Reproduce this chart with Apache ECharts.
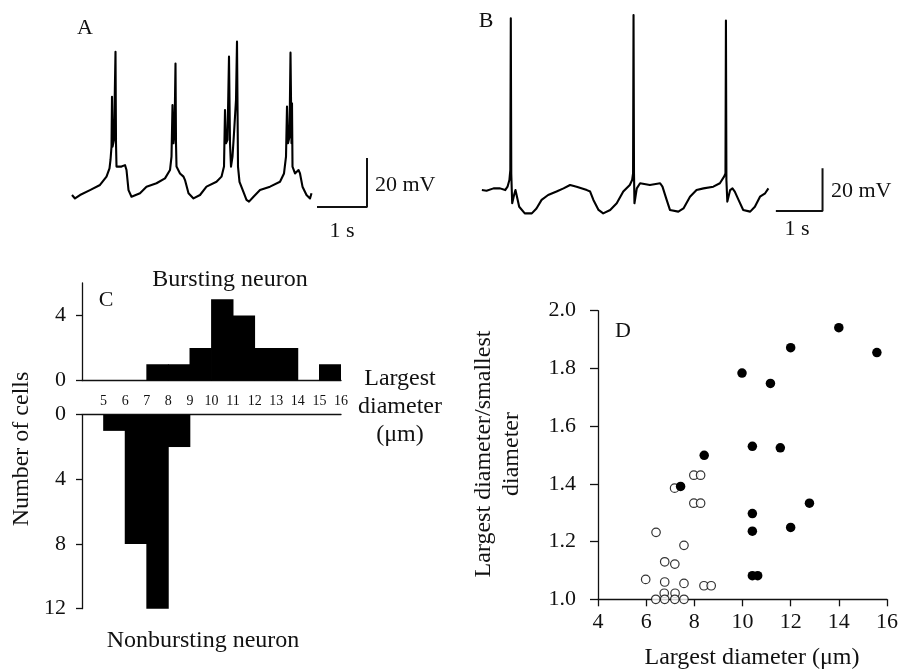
<!DOCTYPE html>
<html>
<head>
<meta charset="utf-8">
<script src="https://cdn.jsdelivr.net/npm/echarts@6/dist/echarts.min.js"></script>
<style>
  html, body { margin: 0; padding: 0; background: #fff; }
  #main { width: 917px; height: 672px; }
</style>
</head>
<body>
<div id="main"></div>
<script>
// A: bursting neuron trace (time s, membrane potential mV, arbitrary offset)
var traceA_t = [0.00, 0.06, 0.16, 0.36, 0.56, 0.69, 0.75, 0.77, 0.79, 0.80, 0.81, 0.84, 0.87, 0.88, 0.89, 0.93, 0.99, 1.06, 1.09, 1.13, 1.19,
    1.36, 1.49, 1.69, 1.86, 1.96, 1.99, 2.01, 2.03, 2.05, 2.07, 2.08, 2.09, 2.16, 2.23, 2.26, 2.33, 2.43,
    2.56, 2.69, 2.89, 2.99, 3.04, 3.06, 3.08, 3.11, 3.14, 3.16, 3.18, 3.21, 3.24, 3.28, 3.30, 3.32, 3.35, 3.39, 3.44, 3.49, 3.54,
    3.63, 3.76, 3.96, 4.16, 4.24, 4.28, 4.30, 4.32, 4.35, 4.37, 4.39, 4.40, 4.41, 4.46, 4.53, 4.56, 4.61, 4.69, 4.76, 4.79];
var traceA_v = [10.2, 8.8, 10.2, 12.2, 14.3, 17.7, 21.1, 24.5, 29.9, 50.3, 29.9, 32.7, 68.7, 31.3, 21.8, 22.4, 21.8, 22.4, 20.4, 12.2, 9.5,
    10.9, 13.6, 15.0, 17.0, 20.4, 25.9, 46.9, 31.3, 35.4, 63.9, 31.3, 21.8, 19.0, 17.7, 16.3, 10.9, 8.8,
    10.2, 13.6, 15.6, 17.7, 21.8, 44.9, 31.3, 32.7, 66.7, 31.3, 21.8, 25.9, 35.4, 49.0, 72.8, 21.8, 15.6, 15.0, 10.9, 8.2, 7.5,
    9.5, 12.2, 13.6, 15.6, 19.0, 25.9, 46.3, 31.3, 34.0, 68.3, 31.3, 47.6, 21.8, 19.0, 20.4, 19.0, 13.6, 10.2, 8.8, 10.9];

// B: nonbursting neuron trace
var traceB_t = [0.04, 0.14, 0.29, 0.43, 0.54, 0.59, 0.63, 0.65, 0.66, 0.67, 0.69, 0.73, 0.76, 0.84, 0.96, 1.11, 1.21, 1.32, 1.46,
    1.64, 1.79, 1.93, 2.07, 2.29, 2.36, 2.43, 2.54, 2.64, 2.79, 2.93, 3.07, 3.21, 3.26, 3.28, 3.29, 3.30, 3.31, 3.36,
    3.43, 3.64, 3.86, 3.91, 4.00, 4.07, 4.25, 4.36, 4.50, 4.64, 4.79, 5.00, 5.14, 5.23, 5.26, 5.27, 5.28, 5.30,
    5.36, 5.41, 5.46, 5.54, 5.64, 5.79, 5.89, 6.00, 6.11, 6.18];
var traceB_v = [18.7, 18.4, 19.5, 19.5, 18.7, 20.3, 23.4, 28.1, 99.2, 26.5, 12.5, 16.4, 18.7, 10.9, 7.8, 7.8, 10.1, 14.1, 16.4,
    18.0, 19.5, 21.1, 20.3, 18.7, 18.0, 14.1, 9.4, 7.8, 9.4, 12.5, 18.0, 21.1, 23.4, 26.5, 100.7, 26.5, 12.5, 19.5,
    21.9, 21.1, 21.9, 20.3, 14.1, 9.4, 8.6, 10.1, 15.6, 18.7, 19.5, 20.3, 21.9, 25.0, 26.5, 98.1, 23.4, 13.3,
    18.7, 19.5, 18.0, 14.1, 9.4, 8.6, 10.9, 15.6, 17.2, 19.5];

// scale bars: 1 s horizontal, 20 mV vertical
var scaleA_t = [4.9, 5.9, 5.9];
var scaleA_v = [5.3, 5.3, 25.3];
var scaleB_t = [6.34, 7.34, 7.34];
var scaleB_v = [8.9, 8.9, 28.9];

// C: histogram of largest diameter (bins 4-5 ... 15-16 um)
var binLabels = ['4-5', '5-6', '6-7', '7-8', '8-9', '9-10', '10-11', '11-12', '12-13', '13-14', '14-15', '15-16'];
var burstingCounts    = [0, 0, 0, 1, 1, 2, 5, 4, 2, 2, 0, 1];
var nonburstingCounts = [0, 1, 8, 12, 2, 0, 0, 0, 0, 0, 0, 0];

// D: largest diameter (um) vs largest/smallest diameter
var openX = [7.18, 7.98, 8.26, 7.98, 8.26, 6.41, 7.57, 6.77, 7.19, 5.98, 6.77, 7.57, 8.40, 8.70, 6.75, 7.20, 6.40, 6.77, 7.19, 7.57];
var openY = [1.385, 1.430, 1.430, 1.333, 1.333, 1.232, 1.187, 1.130, 1.122, 1.069, 1.060, 1.055, 1.047, 1.047, 1.021, 1.021, 1.0, 1.0, 1.0, 1.0];
var filledX = [9.98, 11.16, 12.0, 14.0, 15.58, 10.41, 11.57, 8.41, 7.43, 12.78, 10.41, 10.41, 12.0, 10.41, 10.63];
var filledY = [1.784, 1.748, 1.872, 1.941, 1.855, 1.530, 1.525, 1.499, 1.391, 1.333, 1.297, 1.236, 1.249, 1.082, 1.082];

function zip(a, b) {
    var out = [];
    for (var i = 0; i < a.length; i++) out.push([a[i], b[i]]);
    return out;
}

var FONT = '"Liberation Serif", "DejaVu Serif", serif';
var INK = '#111';

function txt(s, x, y, size, opts) {
    opts = opts || {};
    return {
        type: 'text', x: x, y: y, rotation: opts.rot || 0, silent: true,
        style: {
            text: s, fill: INK,
            font: size + 'px ' + FONT,
            textAlign: opts.align || 'center', align: opts.align || 'center',
            textVerticalAlign: 'middle', verticalAlign: 'middle',
            lineHeight: opts.lh || size
        }
    };
}

var hidden = { show: false };
var axLine = { show: true, lineStyle: { color: INK, width: 1.3 } };

var myChart = echarts.init(document.getElementById('main'));
var option = {
    animation: false,
    grid: [
        { left: 72, top: 24, width: 300, height: 196 },        // A
        { left: 480, top: 8, width: 350, height: 222 },        // B
        { left: 82, top: 283, width: 259, height: 97.5 },      // C upper
        { left: 82, top: 414.7, width: 259, height: 194 },     // C lower
        { left: 598, top: 310.7, width: 289, height: 288.6 }   // D
    ],
    xAxis: [
        { gridIndex: 0, type: 'value', min: 0, max: 6, show: false },
        { gridIndex: 1, type: 'value', min: 0, max: 7.5, show: false },
        {
            gridIndex: 2, type: 'category', data: binLabels,
            axisLine: axLine, axisTick: hidden, axisLabel: hidden
        },
        {
            gridIndex: 3, type: 'category', data: binLabels, position: 'top',
            axisLine: hidden, axisTick: hidden, axisLabel: hidden
        },
        {
            gridIndex: 3, type: 'value', min: 4, max: 16, interval: 1, position: 'top',
            axisLine: axLine, axisTick: hidden, splitLine: hidden,
            axisLabel: {
                color: INK, fontFamily: FONT, fontSize: 14, margin: 6,
                formatter: function (v) { return v >= 5 ? String(v) : ''; }
            }
        },
        {
            gridIndex: 4, type: 'value', min: 4, max: 16, interval: 2,
            axisLine: axLine, splitLine: hidden,
            axisTick: { show: true, length: 7, lineStyle: { color: INK, width: 1.3 } },
            axisLabel: { color: INK, fontFamily: FONT, fontSize: 22, margin: 12 }
        }
    ],
    yAxis: [
        { gridIndex: 0, type: 'value', min: 0, max: 80, show: false },
        { gridIndex: 1, type: 'value', min: 0, max: 104, show: false },
        {
            gridIndex: 2, type: 'value', min: 0, max: 6,
            axisLine: axLine, splitLine: hidden,
            axisTick: { show: true, length: 6, customValues: [0, 4], lineStyle: { color: INK, width: 1.3 } },
            axisLabel: { color: INK, fontFamily: FONT, fontSize: 22, margin: 16, customValues: [0, 4] }
        },
        {
            gridIndex: 3, type: 'value', min: 0, max: 12, interval: 4, inverse: true,
            axisLine: axLine, splitLine: hidden,
            axisTick: { show: true, length: 6, lineStyle: { color: INK, width: 1.3 } },
            axisLabel: { color: INK, fontFamily: FONT, fontSize: 22, margin: 16 }
        },
        {
            gridIndex: 4, type: 'value', min: 1, max: 2, interval: 0.2,
            axisLine: axLine, splitLine: hidden,
            axisTick: { show: true, length: 8, lineStyle: { color: INK, width: 1.3 } },
            axisLabel: {
                color: INK, fontFamily: FONT, fontSize: 22, margin: 22,
                formatter: function (v) { return v.toFixed(1); }
            }
        }
    ],
    series: [
        {
            type: 'line', xAxisIndex: 0, yAxisIndex: 0, data: zip(traceA_t, traceA_v),
            showSymbol: false, symbol: 'none',
            lineStyle: { color: '#000', width: 2.1, join: 'round' }
        },
        {
            type: 'line', xAxisIndex: 0, yAxisIndex: 0, data: zip(scaleA_t, scaleA_v),
            showSymbol: false, symbol: 'none', lineStyle: { color: INK, width: 2 }
        },
        {
            type: 'line', xAxisIndex: 1, yAxisIndex: 1, data: zip(traceB_t, traceB_v),
            showSymbol: false, symbol: 'none',
            lineStyle: { color: '#000', width: 2.1, join: 'round' }
        },
        {
            type: 'line', xAxisIndex: 1, yAxisIndex: 1, data: zip(scaleB_t, scaleB_v),
            showSymbol: false, symbol: 'none', lineStyle: { color: INK, width: 2 }
        },
        {
            name: 'Bursting neuron', type: 'bar', xAxisIndex: 2, yAxisIndex: 2,
            data: burstingCounts, barWidth: 22.4, barCategoryGap: '0%',
            itemStyle: { color: '#000' }
        },
        {
            name: 'Nonbursting neuron', type: 'bar', xAxisIndex: 3, yAxisIndex: 3,
            data: nonburstingCounts, barWidth: 22.4, barCategoryGap: '0%',
            itemStyle: { color: '#000' }
        },
        {
            name: 'Nonbursting', type: 'scatter', xAxisIndex: 5, yAxisIndex: 4,
            data: zip(openX, openY), symbolSize: 8.5, clip: false,
            itemStyle: { color: '#fff', borderColor: '#000', borderWidth: 1.2 }
        },
        {
            name: 'Bursting', type: 'scatter', xAxisIndex: 5, yAxisIndex: 4,
            data: zip(filledX, filledY), symbolSize: 9.5, clip: false,
            itemStyle: { color: '#000', opacity: 1 }
        }
    ],
    graphic: [
        txt('A', 85, 28, 22),
        txt('20 mV', 375, 185, 22, { align: 'left' }),
        txt('1 s', 342, 231, 22),
        txt('B', 486, 21, 22),
        txt('20 mV', 831, 191, 22, { align: 'left' }),
        txt('1 s', 797, 229, 22),
        txt('C', 106, 300, 22),
        txt('Bursting neuron', 230, 280, 24),
        txt('Nonbursting neuron', 203, 641, 24),
        txt('Largest\ndiameter\n(\u03bcm)', 400, 407, 24, { lh: 28 }),
        txt('Number of cells', 22, 449, 24, { rot: Math.PI / 2 }),
        txt('D', 623, 331, 22),
        txt('Largest diameter/smallest\ndiameter', 498, 454, 24, { rot: Math.PI / 2, lh: 28 }),
        txt('Largest diameter (\u03bcm)', 752, 658, 24)
    ]
};
myChart.setOption(option);
</script>
</body>
</html>
